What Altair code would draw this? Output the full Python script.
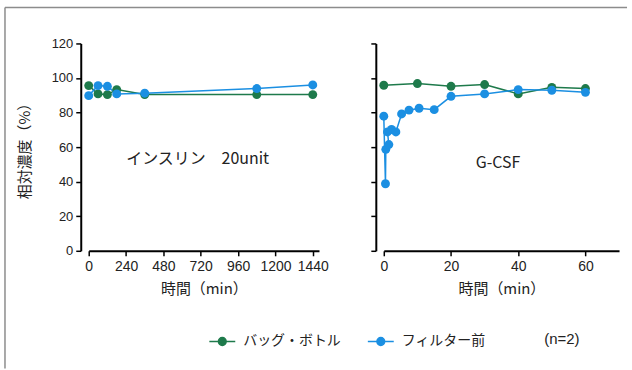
import altair as alt
import pandas as pd

# Series names and colours
series = ["バッグ・ボトル", "フィルター前"]
colors = ["#1e7a4b", "#1b8fe2"]

# Insulin 20unit: time (min) and relative concentration (%)
insulin_time = [0, 60, 120, 180, 360, 1080, 1440]
insulin_bag = [95.6, 90.8, 90.4, 93.3, 90.4, 90.4, 90.4]
insulin_filter = [89.8, 95.6, 95.2, 90.8, 91.2, 93.9, 96.0]

# G-CSF: time (min) and relative concentration (%)
gcsf_time_bag = [0, 10, 20, 30, 40, 50, 60]
gcsf_bag = [95.8, 96.8, 95.2, 96.2, 90.8, 94.6, 93.9]
gcsf_time_filter = [0, 0.5, 0.6, 1.5, 1.1, 2.3, 3.6, 5.3, 7.5, 10.5, 15, 20, 30, 40, 50, 60]
gcsf_filter = [77.9, 38.8, 58.7, 61.5, 68.8, 70.2, 68.8, 79.2, 81.4, 82.5, 81.7, 89.4, 90.8, 93.3, 92.9, 91.7]

# Axis ticks
y_ticks = [0, 20, 40, 60, 80, 100, 120]
insulin_ticks = [0, 240, 480, 720, 960, 1200, 1440]
gcsf_ticks = [0, 20, 40, 60]

# Panel labels and where they sit (data units)
insulin_label = ["インスリン\u300020unit"]
insulin_label_pos = [700, 53]
gcsf_label = ["G-CSF"]
gcsf_label_pos = [34, 51]

NUM_FONT = "Liberation Sans Narrow, Liberation Sans, sans-serif"
JP_FONT = "Noto Sans CJK JP"
INK = "#222222"


def table(t_a, v_a, t_b, v_b):
    rows = []
    for i, (t, v) in enumerate(zip(t_a, v_a)):
        rows.append({"t": t, "v": v, "s": series[0], "i": i})
    for i, (t, v) in enumerate(zip(t_b, v_b)):
        rows.append({"t": t, "v": v, "s": series[1], "i": i})
    return pd.DataFrame(rows)


color = alt.Color(
    "s:N",
    scale=alt.Scale(domain=series, range=colors),
    legend=alt.Legend(
        title="(n=2)",
        titleOrient="right",
        titlePadding=59,
        titleFont=NUM_FONT,
        titleFontSize=15,
        titleFontWeight="normal",
        titleColor=INK,
        titleBaseline="middle",
        orient="none",
        direction="horizontal",
        legendX=120,
        legendY=285,
        symbolType="M-1,0H1M-0.3,0A0.3,0.3,0,1,1,0.3,0A0.3,0.3,0,1,1,-0.3,0Z",
        symbolSize=676,
        symbolStrokeWidth=1.5,
        labelFont=JP_FONT,
        labelFontSize=14,
        labelColor=INK,
        labelOffset=7,
        columnPadding=24,
    ),
)


def y_enc(labels, title):
    return alt.Y(
        "v:Q",
        scale=alt.Scale(domain=[0, 120], nice=False, zero=False),
        axis=alt.Axis(
            values=y_ticks,
            labels=labels,
            title=title,
            offset=8,
            grid=False,
            format="d",
            labelOverlap=False,
            labelFlush=False,
            domainColor="black",
            domainWidth=2,
            tickColor="black",
            tickWidth=1.5,
            tickSize=5,
            labelFont=NUM_FONT,
            labelFontSize=13,
            labelColor=INK,
            labelPadding=3,
            titleFont=JP_FONT,
            titleFontSize=15,
            titleFontWeight="normal",
            titleColor=INK,
            titlePadding=19,
        ),
    )


def x_enc(domain, ticks):
    return alt.X(
        "t:Q",
        scale=alt.Scale(domain=domain, nice=False, zero=False),
        axis=alt.Axis(
            values=ticks,
            title="時間（min）",
            grid=False,
            format="d",
            labelOverlap=False,
            labelFlush=False,
            domainColor="black",
            domainWidth=2,
            tickColor="black",
            tickWidth=1.5,
            tickSize=5,
            labelFont=NUM_FONT,
            labelFontSize=14,
            labelColor=INK,
            labelPadding=4,
            titleFont=JP_FONT,
            titleFontSize=15,
            titleFontWeight="normal",
            titleColor=INK,
            titlePadding=8,
        ),
    )


def panel(df, domain, ticks, label, pos, y_labels, y_title):
    xe = x_enc(domain, ticks)
    ye = y_enc(y_labels, y_title)
    base = alt.Chart(df).encode(x=xe, y=ye, color=color, order=alt.Order("i:Q"))
    line = base.mark_line(strokeWidth=1.5)
    pts = base.mark_circle(size=80, opacity=1)
    text = alt.Chart(pd.DataFrame({"lab": label, "t": [pos[0]], "v": [pos[1]]})).mark_text(
        font=JP_FONT, fontSize=16, color=INK
    ).encode(x=xe, y=ye, text="lab:N")
    return line, pts, text


ins_df = table(insulin_time, insulin_bag, insulin_time, insulin_filter)
gcsf_df = table(gcsf_time_bag, gcsf_bag, gcsf_time_filter, gcsf_filter)

l_line, l_pts, l_text = panel(ins_df, [0, 1480], insulin_ticks, insulin_label, insulin_label_pos, True, "相対濃度（%）")
r_line, r_pts, r_text = panel(gcsf_df, [0, 70], gcsf_ticks, gcsf_label, gcsf_label_pos, False, None)

# Thin grey frame along the top and left edges of the figure
edge = pd.DataFrame({"k": [0]})
frame_left = alt.Chart(edge).mark_rule(color="#8c8c8c", strokeWidth=1.5).encode(
    x=alt.value(-84), y=alt.value(-36), y2=alt.value(326)
)
frame_top = alt.Chart(edge).mark_rule(color="#8c8c8c", strokeWidth=1.5).encode(
    x=alt.value(-84), x2=alt.value(540), y=alt.value(-36)
)

left = alt.layer(l_line, l_pts, l_text, frame_left, frame_top).properties(width=231, height=208)
right = alt.layer(r_line, r_pts, r_text).properties(width=236, height=208)

chart = (
    alt.hconcat(left, right, spacing=65, bounds="flush")
    .properties(padding={"left": 4, "top": 6, "right": 4, "bottom": 2}, background="white")
    .configure_view(stroke=None)
)

chart.save("out.html", embed_options={"renderer": "svg", "actions": False})
